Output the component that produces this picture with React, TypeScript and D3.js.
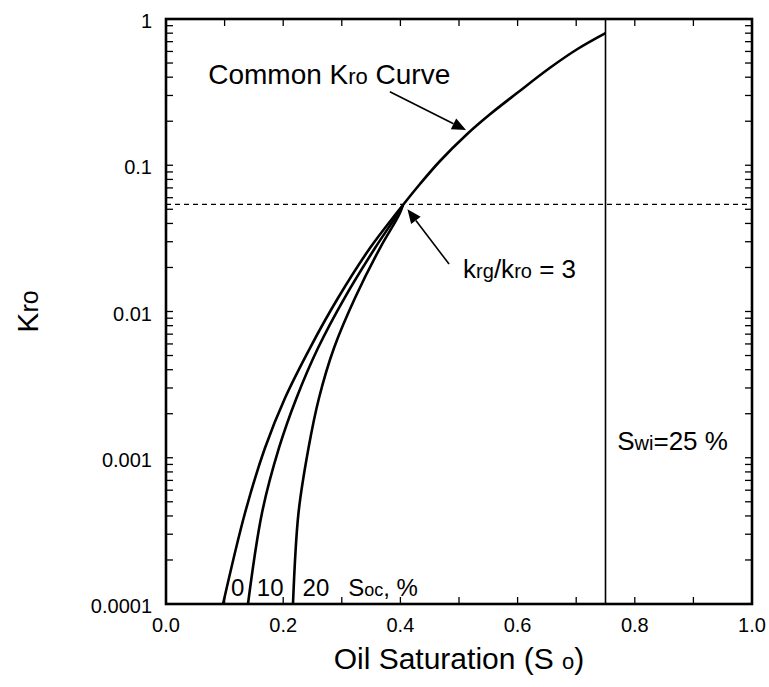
import React from "react";
import * as d3 from "d3";

const W = 769;
const H = 687;
const Margin = { top: 19, right: 17, bottom: 83, left: 166 };
const FONT = "'Liberation Sans', Arial, Helvetica, sans-serif";

// common Kro curve (So, kro)
const commonSo = [0.4044, 0.4334, 0.4676, 0.5131, 0.5529, 0.5985, 0.6553, 0.7009, 0.75];
const commonKro = [0.0535, 0.0744, 0.1069, 0.1623, 0.2231, 0.3104, 0.4637, 0.6185, 0.8];

// lower curves for Soc = 0, 10, 20 %
const lowerKro = [0.0001, 0.000419, 0.001166, 0.002563, 0.005627, 0.01236, 0.02717, 0.0457, 0.0535];
const soc0So = [0.0973, 0.1348, 0.1689, 0.2031, 0.2457, 0.2935, 0.3481, 0.3908, 0.4044];
const soc10So = [0.1399, 0.1638, 0.1928, 0.2227, 0.2594, 0.3046, 0.3567, 0.3942, 0.4044];
const soc20So = [0.2167, 0.2261, 0.2432, 0.2611, 0.2867, 0.3225, 0.3652, 0.3976, 0.4044];
const socLabels = ["0", "10", "20"];
const socLabelSo = [0.111, 0.155, 0.233];

const swi = 0.75;
const krgKroLevel = 0.054;

const xTicks = [0, 0.1, 0.2, 0.3, 0.4, 0.5, 0.6, 0.7, 0.8, 0.9, 1.0];
const xTickLabels = ["0.0", "0.2", "0.4", "0.6", "0.8", "1.0"];
const yTickLabels = ["0.0001", "0.001", "0.01", "0.1", "1"];

const App = () => {
  const x = d3
    .scaleLinear()
    .domain([0, 1])
    .range([Margin.left, W - Margin.right]);
  const y = d3
    .scaleLog()
    .domain([0.0001, 1])
    .range([H - Margin.bottom, Margin.top]);

  const line = d3
    .line<[number, number]>()
    .x((d) => x(d[0]))
    .y((d) => y(d[1]))
    .curve(d3.curveCatmullRom.alpha(0.5));

  const common = commonSo.map((s, i) => [s, commonKro[i]] as [number, number]);
  const lowers = [soc0So, soc10So, soc20So].map((arr) =>
    arr.map((s, i) => [s, lowerKro[i]] as [number, number])
  );

  const x0 = x(0);
  const x1 = x(1);
  const yB = y(0.0001);
  const yT = y(1);
  const tick = 7;

  const arrow = (fx: number, fy: number, tx: number, ty: number, key: string) => {
    const ax = x(tx);
    const ay = y(ty);
    const bx = x(fx);
    const by = y(fy);
    const ang = Math.atan2(ay - by, ax - bx);
    const len = 14;
    const half = 6;
    const px = ax - len * Math.cos(ang);
    const py = ay - len * Math.sin(ang);
    const p1 = [px + half * Math.sin(ang), py - half * Math.cos(ang)];
    const p2 = [px - half * Math.sin(ang), py + half * Math.cos(ang)];
    return (
      <g key={key}>
        <line x1={bx} y1={by} x2={px} y2={py} stroke="black" strokeWidth={1.6} />
        <polygon points={`${ax},${ay} ${p1[0]},${p1[1]} ${p2[0]},${p2[1]}`} fill="black" />
      </g>
    );
  };

  return (
    <svg
      width={W}
      height={H}
      style={{ position: "absolute", left: 0, top: 0, background: "white" }}
      fontFamily={FONT}
    >
      {/* ticks */}
      {xTicks.map((t) => (
        <g key={"xt" + t}>
          <line x1={x(t)} x2={x(t)} y1={yB} y2={yB - tick} stroke="black" strokeWidth={1.3} />
          <line x1={x(t)} x2={x(t)} y1={yT} y2={yT + tick} stroke="black" strokeWidth={1.3} />
        </g>
      ))}
      {y.ticks().map((t, i) => (
        <g key={"yt" + i}>
          <line x1={x0} x2={x0 + tick} y1={y(t)} y2={y(t)} stroke="black" strokeWidth={1.3} />
          <line x1={x1} x2={x1 - tick} y1={y(t)} y2={y(t)} stroke="black" strokeWidth={1.3} />
        </g>
      ))}
      {xTickLabels.map((l) => (
        <text key={"xl" + l} x={x(+l)} y={yB + 28} textAnchor="middle" fontSize={20}>
          {l}
        </text>
      ))}
      {yTickLabels.map((l) => (
        <text key={"yl" + l} x={x0 - 14} y={y(+l) + 9} textAnchor="end" fontSize={20}>
          {l}
        </text>
      ))}

      {/* reference lines */}
      <line
        x1={x0}
        x2={x1}
        y1={y(krgKroLevel)}
        y2={y(krgKroLevel)}
        stroke="black"
        strokeWidth={1.4}
        strokeDasharray="5,4"
      />
      <line x1={x(swi)} x2={x(swi)} y1={yB} y2={yT} stroke="black" strokeWidth={1.6} />

      {/* curves */}
      <path d={line(common) || ""} fill="none" stroke="black" strokeWidth={2.6} />
      {lowers.map((c, i) => (
        <path key={"c" + i} d={line(c) || ""} fill="none" stroke="black" strokeWidth={2.6} />
      ))}

      {/* frame */}
      <rect
        x={x0}
        y={yT}
        width={x1 - x0}
        height={yB - yT}
        fill="none"
        stroke="black"
        strokeWidth={2.6}
      />

      {/* annotations */}
      <text x={x(0.072)} y={y(0.36)} fontSize={28}>
        Common K<tspan fontSize={22}>ro</tspan> Curve
      </text>
      {arrow(0.382, 0.318, 0.512, 0.174, "a1")}
      <text x={x(0.507)} y={y(0.0169)} fontSize={26}>
        k<tspan fontSize={20}>rg</tspan>/k<tspan fontSize={20}>ro</tspan> = 3
      </text>
      {arrow(0.483, 0.0211, 0.412, 0.05, "a2")}
      <text x={x(0.77)} y={y(0.00113)} fontSize={26}>
        S<tspan fontSize={20}>wi</tspan>=25 %
      </text>
      {socLabels.map((l, i) => (
        <text key={"s" + l} x={x(socLabelSo[i])} y={y(0.000113)} fontSize={24}>
          {l}
        </text>
      ))}
      <text x={x(0.311)} y={y(0.000113)} fontSize={24}>
        S<tspan fontSize={18}>oc</tspan>, %
      </text>

      {/* axis titles */}
      <text x={(x0 + x1) / 2} y={H - 18} textAnchor="middle" fontSize={30}>
        Oil Saturation (S <tspan fontSize={22}>o</tspan>)
      </text>
      <text transform={`translate(38, ${(yT + yB) / 2}) rotate(-90)`} textAnchor="middle" fontSize={30}>
        K<tspan fontSize={25}>ro</tspan>
      </text>
    </svg>
  );
};

export default App;
